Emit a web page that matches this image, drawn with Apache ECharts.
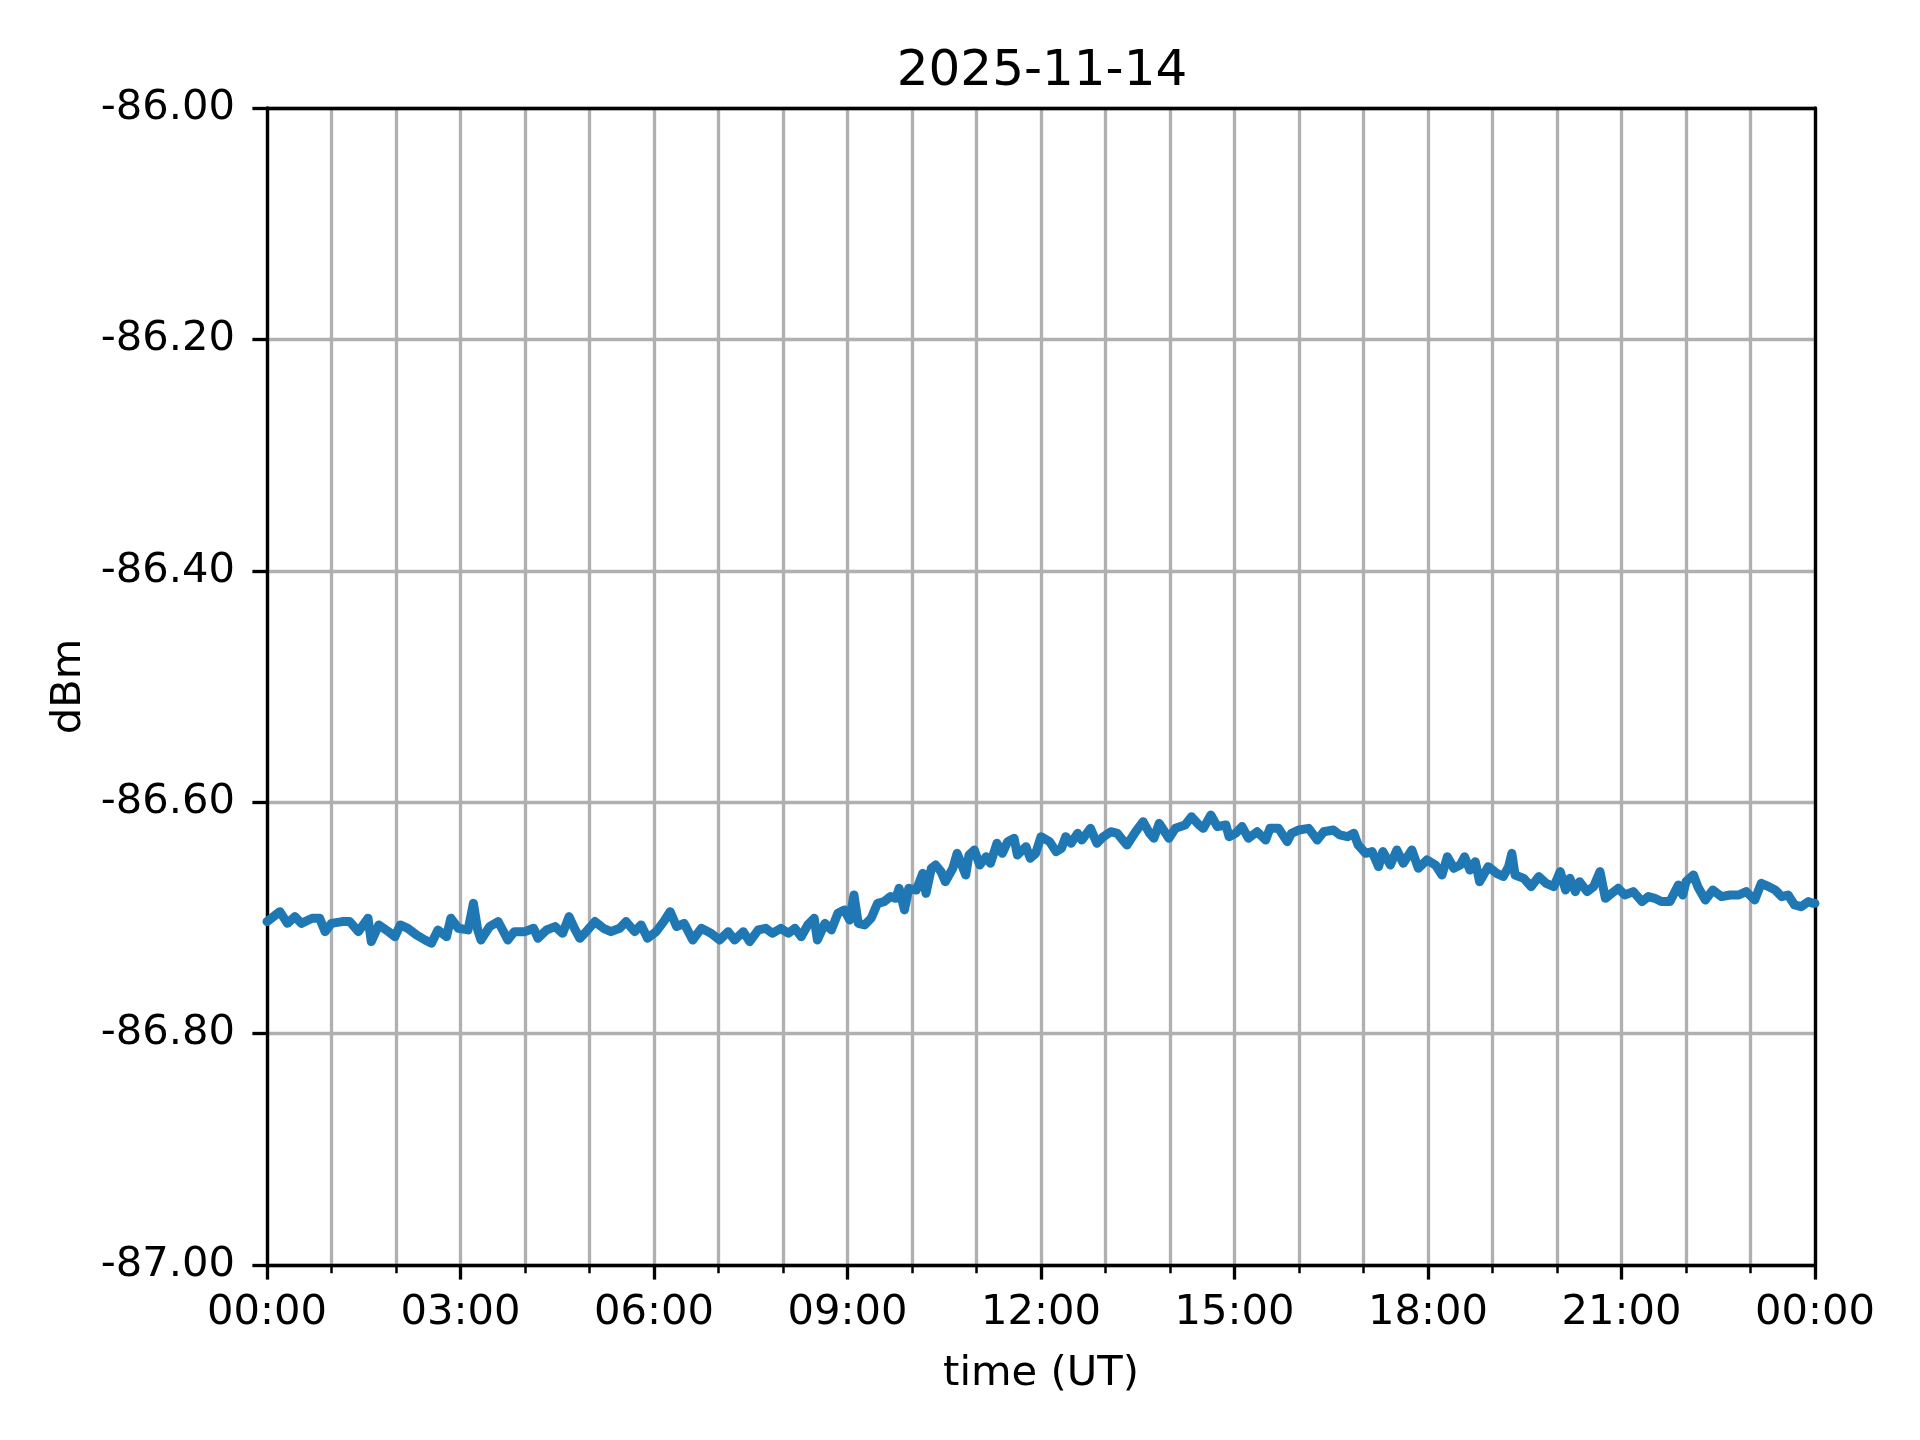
<!DOCTYPE html>
<html>
<head>
<meta charset="utf-8">
<script src="https://cdn.jsdelivr.net/npm/echarts@6/dist/echarts.min.js"></script>
<style>
html,body{margin:0;padding:0;background:#fff;}
#chart{width:1920px;height:1440px;}
</style>
</head>
<body>
<div id="chart"></div>
<script>
const chartTitle = '2025-11-14';
const xAxisName = 'time (UT)';
const yAxisName = 'dBm';
const xTickLabels = ['00:00','03:00','06:00','09:00','12:00','15:00','18:00','21:00','00:00'];

// minutes since 00:00 UT
const timeMinutes = [
0,6,12,19,26,32,42,49,54,60,70,77,85,94,97,104,113,119,124,131,139,147,153,159,167,171,178,187,192,196,199,207,215,220,224,230,
240,248,252,260,268,275,281,286,291,297,305,313,320,328,334,342,348,354,362,369,375,381,388,396,404,413,421,429,435,443,449,457,464,470,478,
480,485,491,497,503,509,512,519,525,531,537,542,546,550,556,562,568,574,580,585,588,593,597,604,610,613,618,622,627,631,638,642,650,653,658,663,669,673,679,684,689,695,698,706,710,715,
720,728,734,739,743,748,754,758,766,772,778,785,791,796,800,808,815,821,825,830,834,839,845,854,860,867,871,878,884,892,895,901,907,913,921,929,933,941,949,953,
960,969,977,983,992,998,1005,1011,1015,1022,1028,1034,1038,1045,1051,1057,1065,1071,1079,1087,1093,1098,1104,1110,1114,1119,1124,1128,1136,1144,1150,1155,1158,1161,1169,1176,1183,1190,1197,
1203,1208,1212,1217,1221,1228,1234,1240,1245,1251,1257,1263,1271,1279,1285,1291,1297,1305,1313,1317,1320,1327,1331,1338,1345,1353,1361,1369,1376,1384,1390,1397,1403,1409,1415,1421,1427,1434,1438,1440
];

// received level, dBm
const dBmValues = [
-86.7032,-86.6989,-86.6946,-86.7047,-86.6989,-86.7047,-86.7003,-86.7003,-86.7119,-86.7047,-86.7032,-86.7032,-86.7119,-86.7003,-86.7205,-86.7061,-86.7119,-86.7162,-86.7061,-86.7090,-86.7147,-86.7191,-86.7219,-86.7104,-86.7162,-86.7003,-86.7090,-86.7104,-86.6874,-86.7104,-86.7191,-86.7075,-86.7032,-86.7119,-86.7191,-86.7119,
-86.7119,-86.7090,-86.7176,-86.7104,-86.7075,-86.7133,-86.6989,-86.7090,-86.7176,-86.7119,-86.7032,-86.7090,-86.7119,-86.7090,-86.7032,-86.7119,-86.7061,-86.7176,-86.7119,-86.7032,-86.6946,-86.7075,-86.7047,-86.7191,-86.7090,-86.7133,-86.7191,-86.7119,-86.7191,-86.7119,-86.7205,-86.7104,-86.7090,-86.7133,-86.7090,
-86.7104,-86.7133,-86.7090,-86.7162,-86.7061,-86.7003,-86.7191,-86.7047,-86.7104,-86.6960,-86.6931,-86.7018,-86.6802,-86.7047,-86.7061,-86.7003,-86.6874,-86.6859,-86.6816,-86.6831,-86.6744,-86.6931,-86.6744,-86.6759,-86.6615,-86.6787,-86.6571,-86.6543,-86.6600,-86.6687,-86.6571,-86.6442,-86.6629,-86.6456,-86.6413,-86.6543,-86.6471,-86.6528,-86.6355,-86.6442,-86.6341,-86.6312,-86.6456,-86.6384,-86.6485,-86.6442,
-86.6298,-86.6341,-86.6427,-86.6399,-86.6298,-86.6355,-86.6269,-86.6327,-86.6226,-86.6355,-86.6298,-86.6255,-86.6269,-86.6327,-86.6370,-86.6255,-86.6168,-86.6269,-86.6312,-86.6183,-86.6240,-86.6312,-86.6226,-86.6197,-86.6125,-86.6197,-86.6226,-86.6111,-86.6211,-86.6197,-86.6298,-86.6269,-86.6211,-86.6312,-86.6255,-86.6327,-86.6226,-86.6226,-86.6341,-86.6269,
-86.6240,-86.6226,-86.6327,-86.6255,-86.6240,-86.6283,-86.6298,-86.6269,-86.6370,-86.6442,-86.6427,-86.6557,-86.6427,-86.6543,-86.6413,-86.6528,-86.6413,-86.6571,-86.6499,-86.6543,-86.6629,-86.6471,-86.6571,-86.6543,-86.6471,-86.6586,-86.6514,-86.6687,-86.6557,-86.6615,-86.6643,-86.6557,-86.6442,-86.6629,-86.6658,-86.6730,-86.6643,-86.6701,-86.6730,
-86.6600,-86.6759,-86.6658,-86.6773,-86.6687,-86.6773,-86.6730,-86.6600,-86.6831,-86.6787,-86.6744,-86.6802,-86.6773,-86.6859,-86.6816,-86.6831,-86.6859,-86.6859,-86.6715,-86.6802,-86.6687,-86.6629,-86.6730,-86.6845,-86.6759,-86.6816,-86.6802,-86.6802,-86.6773,-86.6845,-86.6701,-86.6730,-86.6759,-86.6816,-86.6802,-86.6888,-86.6903,-86.6859,-86.6874,-86.6874
];

const seriesData = timeMinutes.map((t, i) => [t, dBmValues[i]]);

const FONT = 'DejaVu Sans';
const chart = echarts.init(document.getElementById('chart'), null, {renderer: 'canvas'});
chart.setOption({
  animation: false,
  backgroundColor: '#ffffff',
  title: {
    text: chartTitle,
    left: 1037,
    top: 42,
    textAlign: 'center',
    textStyle: {fontSize: 50, fontWeight: 'normal', color: '#000', fontFamily: FONT}
  },
  grid: {left: 267, right: 105, top: 108, bottom: 175, show: false},
  xAxis: [{
    type: 'value', min: 0, max: 1440, interval: 180,
    axisLine: {show: true, lineStyle: {color: '#000', width: 3.33}},
    axisTick: {show: true, length: 14.6, lineStyle: {color: '#000', width: 3.33}},
    minorTick: {show: true, splitNumber: 3, length: 8.3, lineStyle: {color: '#000', width: 2.5}},
    splitLine: {show: true, lineStyle: {color: '#b0b0b0', width: 3.33}},
    minorSplitLine: {show: true, lineStyle: {color: '#b0b0b0', width: 3.33}},
    axisLabel: {
      show: true, showMinLabel: true, showMaxLabel: true,
      formatter: v => xTickLabels[Math.round(v / 180)],
      fontSize: 41.67, color: '#000', fontFamily: FONT, margin: 27
    },
    name: xAxisName, nameLocation: 'middle', nameGap: 88,
    nameTextStyle: {fontSize: 41.67, color: '#000', fontFamily: FONT}
  }, {
    type: 'value', min: 0, max: 1440, position: 'top',
    axisLine: {show: true, onZero: false, lineStyle: {color: '#000', width: 3.33}},
    axisTick: {show: false}, axisLabel: {show: false}, splitLine: {show: false}
  }],
  yAxis: [{
    type: 'value', min: -87, max: -86, interval: 0.2,
    axisLine: {show: true, onZero: false, lineStyle: {color: '#000', width: 3.33}},
    axisTick: {show: true, length: 14.6, lineStyle: {color: '#000', width: 3.33}},
    splitLine: {show: true, lineStyle: {color: '#b0b0b0', width: 3.33}},
    axisLabel: {
      formatter: v => v.toFixed(2),
      fontSize: 41.67, color: '#000', fontFamily: FONT, margin: 32
    },
    name: yAxisName, nameLocation: 'middle', nameRotate: 90, nameGap: 176,
    nameTextStyle: {fontSize: 41.67, color: '#000', fontFamily: FONT}
  }, {
    type: 'value', min: -87, max: -86, position: 'right',
    axisLine: {show: true, onZero: false, lineStyle: {color: '#000', width: 3.33}},
    axisTick: {show: false}, axisLabel: {show: false}, splitLine: {show: false}
  }],
  series: [{
    type: 'line',
    xAxisIndex: 0, yAxisIndex: 0,
    data: seriesData,
    showSymbol: false,
    symbol: 'none',
    lineStyle: {color: '#1f77b4', width: 9, join: 'round', cap: 'round'},
    z: 5
  }]
});
</script>
</body>
</html>
